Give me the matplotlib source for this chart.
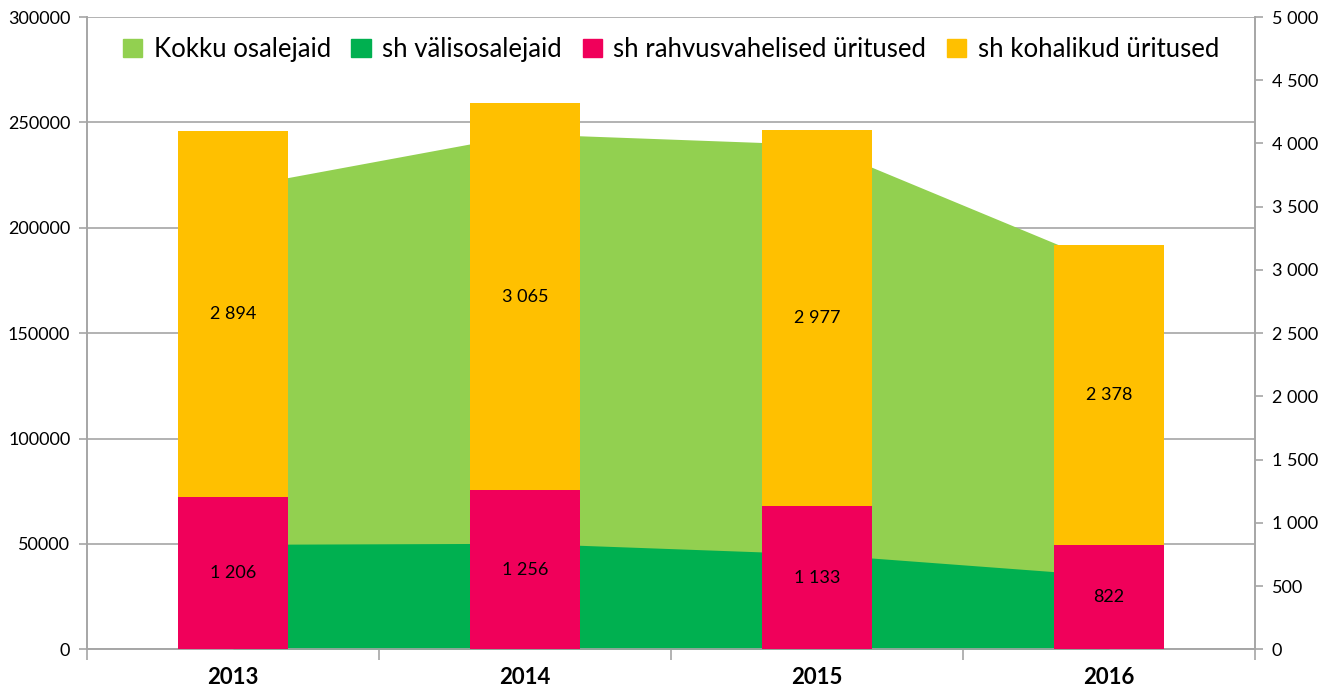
import matplotlib
matplotlib.use("Agg")
import matplotlib.pyplot as plt
from matplotlib.patches import Patch
from matplotlib.ticker import FuncFormatter, MultipleLocator
import numpy as np

years = ["2013", "2014", "2015", "2016"]
kokku = [219000, 244600, 239500, 182000]
valis = [49800, 50300, 45250, 34900]
rahvus = [1206, 1256, 1133, 822]
kohalik = [2894, 3065, 2977, 2378]

C_LIGHT = "#92D050"
C_DARK = "#00B050"
C_PINK = "#F0005A"
C_ORANGE = "#FFC000"
GRID = "#A6A6A6"

plt.rcParams["font.family"] = ["Lato", "DejaVu Sans"]

fig = plt.figure(figsize=(13.36, 6.93), dpi=100)
ax = fig.add_axes([87 / 1336, (693 - 649.3) / 693, (1255 - 87) / 1336, (649.3 - 17) / 693])
x = np.arange(len(years))

ax.fill_between(x, kokku, 0, color=C_LIGHT, lw=0, zorder=2)
ax.fill_between(x, valis, 0, color=C_DARK, lw=0, zorder=3)
ax.set_xlim(-0.5, len(years) - 0.5)
ax.set_ylim(0, 300000)
ax.yaxis.set_major_locator(MultipleLocator(50000))
ax.yaxis.set_major_formatter(FuncFormatter(lambda v, p: f"{int(v)}"))
ax.grid(axis="y", color=GRID, lw=1.2, zorder=0)
ax.set_axisbelow(True)
ax.set_xticks(x)
ax.set_xticklabels(years, fontsize=16, fontweight="bold")
ax.set_xticks(np.arange(-0.5, len(years)), minor=True)
ax.tick_params(axis="x", which="major", length=0, pad=20)
ax.tick_params(axis="x", which="minor", length=8, color=GRID, width=1.2)
ax.tick_params(axis="y", length=6, color=GRID, width=1.2, labelsize=13, pad=6)
ax.spines["top"].set_visible(False)
for s in ["left", "right", "bottom"]:
    ax.spines[s].set_color(GRID)
    ax.spines[s].set_linewidth(1.2)
for lab in ax.get_xticklabels():
    lab.set_verticalalignment("center")

ax2 = ax.twinx()
w = 0.375
ax2.bar(x, rahvus, width=w, color=C_PINK, zorder=3)
ax2.bar(x, kohalik, width=w, bottom=rahvus, color=C_ORANGE, zorder=3)
ax2.set_ylim(0, 5000)
ax2.yaxis.set_major_locator(MultipleLocator(500))
ax2.yaxis.set_major_formatter(FuncFormatter(lambda v, p: f"{int(v):,}".replace(",", " ")))
ax2.tick_params(axis="y", length=6, color=GRID, width=1.2, labelsize=13, pad=6)
ax2.spines["top"].set_visible(False)
for s in ["left", "right", "bottom"]:
    ax2.spines[s].set_color(GRID)
    ax2.spines[s].set_linewidth(1.2)

fmt = lambda v: f"{v:,}".replace(",", " ")
for i in range(len(years)):
    ax2.text(x[i], rahvus[i] / 2, fmt(rahvus[i]), ha="center", va="center", fontsize=13, zorder=5)
    ax2.text(x[i], rahvus[i] + kohalik[i] / 2, fmt(kohalik[i]), ha="center", va="center", fontsize=13, zorder=5)

handles = [Patch(color=C_LIGHT), Patch(color=C_DARK), Patch(color=C_PINK), Patch(color=C_ORANGE)]
labels = ["Kokku osalejaid", "sh välisosalejaid", "sh rahvusvahelised üritused", "sh kohalikud üritused"]
ax2.legend(handles, labels, ncol=4, loc="upper center", bbox_to_anchor=(0.5, 1.005),
           frameon=False, fontsize=18.5, handlelength=0.75, handleheight=0.75,
           handletextpad=0.45, columnspacing=0.8)

fig.savefig("out.png", dpi=100)
